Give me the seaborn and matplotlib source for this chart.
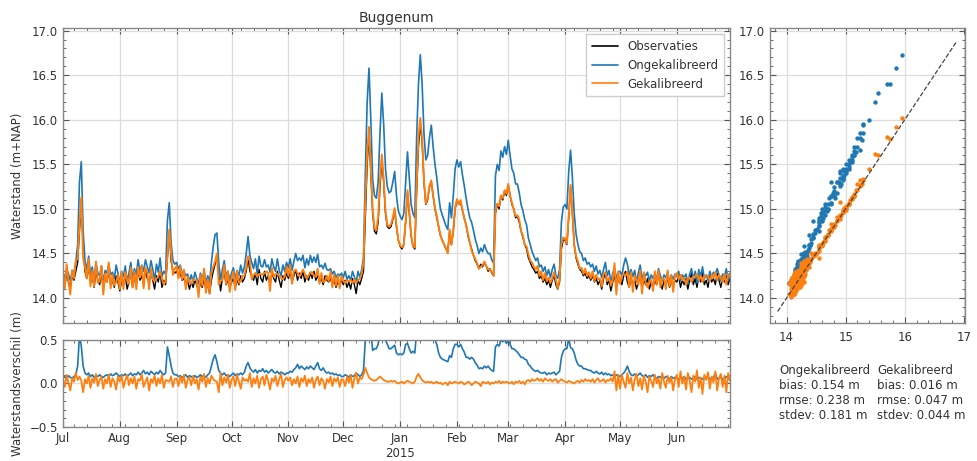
import pandas as pd
import matplotlib
matplotlib.use("Agg")
import matplotlib.pyplot as plt
import matplotlib.dates as mdates
from matplotlib.ticker import AutoMinorLocator, FuncFormatter, MultipleLocator
import seaborn as sns

# daily water levels (m+NAP), Jul 2014 - Jun 2015
obs = [
    # Jul
    14.22, 14.15, 14.28, 14.18, 14.12, 14.25, 14.20, 14.30, 14.40, 14.75, 15.10, 14.55, 14.30, 14.22, 14.35, 14.18,
    14.25, 14.12, 14.30, 14.20, 14.15, 14.28, 14.10, 14.22, 14.18, 14.30, 14.15, 14.20, 14.12, 14.25, 14.18,
    # Aug
    14.08, 14.20, 14.15, 14.25, 14.10, 14.18, 14.28, 14.12, 14.22, 14.16, 14.30, 14.20, 14.25, 14.15, 14.32, 14.22,
    14.18, 14.28, 14.20, 14.10, 14.25, 14.18, 14.30, 14.12, 14.20, 14.15, 14.45, 14.75, 14.42, 14.30, 14.28,
    # Sep
    14.30, 14.25, 14.28, 14.20, 14.22, 14.15, 14.20, 14.10, 14.18, 14.12, 14.20, 14.15, 14.08, 14.18, 14.12,
    14.22, 14.10, 14.15, 14.05, 14.20, 14.30, 14.38, 14.48, 14.25, 14.08, 14.22, 14.30, 14.15, 14.20, 14.12,
    # Oct
    14.18, 14.22, 14.12, 14.20, 14.15, 14.25, 14.18, 14.22, 14.30, 14.45, 14.30, 14.25, 14.20, 14.28, 14.15, 14.32,
    14.22, 14.18, 14.30, 14.20, 14.25, 14.15, 14.28, 14.22, 14.18, 14.30, 14.20, 14.12, 14.25, 14.20, 14.28,
    # Nov
    14.22, 14.30, 14.18, 14.25, 14.32, 14.20, 14.28, 14.22, 14.30, 14.18, 14.25, 14.20, 14.28, 14.22, 14.30,
    14.20, 14.25, 14.18, 14.22, 14.15, 14.25, 14.20, 14.18, 14.22, 14.15, 14.20, 14.12, 14.18, 14.15, 14.20,
    # Dec
    14.15, 14.20, 14.12, 14.18, 14.10, 14.22, 14.15, 14.05, 14.20, 14.15, 14.22, 14.30, 14.90, 15.50, 15.85, 15.40,
    14.95, 14.75, 14.72, 14.85, 15.25, 15.55, 15.30, 14.95, 14.80, 14.78, 14.80, 14.88, 14.98, 14.80, 14.65,
    # Jan
    14.58, 14.55, 14.60, 14.85, 15.18, 14.95, 14.70, 14.58, 14.55, 15.20, 15.70, 15.95, 15.75, 15.30, 15.05, 15.10,
    15.25, 15.30, 15.15, 15.00, 14.90, 14.80, 14.70, 14.65, 14.60, 14.55, 14.52, 14.75, 14.60, 14.75, 15.00,
    # Feb
    15.10, 15.05, 15.08, 14.98, 14.90, 14.82, 14.70, 14.62, 14.55, 14.48, 14.42, 14.38, 14.33, 14.38,
    14.35, 14.40, 14.36, 14.30, 14.33, 14.28, 14.25, 14.95, 15.05, 15.00, 15.15, 15.10, 15.20, 15.15,
    # Mar
    15.27, 15.15, 15.05, 15.00, 14.90, 14.92, 14.85, 14.75, 14.68, 14.60, 14.55, 14.45, 14.40, 14.35, 14.32, 14.28,
    14.30, 14.22, 14.25, 14.18, 14.22, 14.15, 14.20, 14.12, 14.20, 14.25, 14.15, 14.10, 14.18, 14.55, 14.65,
    # Apr
    14.65, 14.60, 14.90, 15.25, 14.95, 14.60, 14.45, 14.38, 14.32, 14.30, 14.25, 14.28, 14.22, 14.25, 14.20,
    14.25, 14.18, 14.22, 14.15, 14.20, 14.10, 14.22, 14.28, 14.15, 14.20, 14.08, 14.18, 14.25, 14.12, 14.20,
    # May
    14.22, 14.15, 14.25, 14.30, 14.18, 14.12, 14.22, 14.15, 14.20, 14.10, 14.18, 14.25, 14.12, 14.20, 14.15, 14.22,
    14.10, 14.18, 14.12, 14.20, 14.15, 14.25, 14.18, 14.10, 14.20, 14.15, 14.22, 14.12, 14.18, 14.15, 14.20,
    # Jun
    14.18, 14.25, 14.12, 14.20, 14.15, 14.22, 14.10, 14.20, 14.28, 14.15, 14.22, 14.12, 14.25, 14.18, 14.30,
    14.15, 14.20, 14.12, 14.25, 14.18, 14.22, 14.15, 14.28, 14.20, 14.12, 14.22, 14.18, 14.25, 14.15, 14.22,
]

# model minus observation (m), uncalibrated model
diff_ongek = [
    # Jul
    0.06, 0.08, 0.05, 0.09, 0.07, 0.06, 0.08, 0.10, 0.20, 0.55, 0.43, 0.20, 0.12, 0.10, 0.12, 0.08,
    0.10, 0.07, 0.09, 0.08, 0.10, 0.08, 0.07, 0.09, 0.10, 0.08, 0.11, 0.09, 0.10, 0.12, 0.10,
    # Aug
    0.08, 0.10, 0.09, 0.11, 0.08, 0.10, 0.12, 0.09, 0.11, 0.10, 0.13, 0.10, 0.12, 0.15, 0.11, 0.13,
    0.10, 0.14, 0.12, 0.10, 0.13, 0.11, 0.15, 0.12, 0.10, 0.12, 0.42, 0.32, 0.20, 0.12, 0.10,
    # Sep
    0.10, 0.08, 0.09, 0.07, 0.08, 0.10, 0.07, 0.09, 0.08, 0.06, 0.09, 0.07, 0.08, 0.10, 0.08,
    0.09, 0.07, 0.10, 0.12, 0.20, 0.28, 0.33, 0.25, 0.15, 0.12, 0.10, 0.12, 0.09, 0.10, 0.08,
    # Oct
    0.10, 0.12, 0.09, 0.11, 0.10, 0.12, 0.10, 0.13, 0.20, 0.24, 0.18, 0.15, 0.13, 0.16, 0.12, 0.15,
    0.14, 0.17, 0.13, 0.15, 0.12, 0.14, 0.16, 0.13, 0.12, 0.14, 0.11, 0.13, 0.12, 0.10, 0.12,
    # Nov
    0.12, 0.14, 0.13, 0.16, 0.18, 0.22, 0.17, 0.20, 0.18, 0.16, 0.19, 0.17, 0.20, 0.18, 0.16,
    0.20, 0.24, 0.17, 0.15, 0.18, 0.14, 0.12, 0.13, 0.11, 0.12, 0.10, 0.11, 0.09, 0.10, 0.08,
    # Dec
    0.08, 0.10, 0.09, 0.07, 0.10, 0.08, 0.09, 0.12, 0.10, 0.08, 0.10, 0.15, 0.50, 0.70, 0.73, 0.60,
    0.38, 0.40, 0.40, 0.45, 0.60, 0.75, 0.65, 0.50, 0.45, 0.40, 0.40, 0.42, 0.44, 0.35, 0.33,
    # Jan
    0.34, 0.33, 0.35, 0.45, 0.46, 0.40, 0.35, 0.37, 0.35, 0.60, 0.70, 0.78, 0.65, 0.55, 0.50, 0.50,
    0.55, 0.64, 0.55, 0.50, 0.45, 0.35, 0.30, 0.28, 0.27, 0.26, 0.25, 0.32, 0.30, 0.40, 0.45,
    # Feb
    0.45, 0.42, 0.45, 0.40, 0.36, 0.30, 0.30, 0.28, 0.30, 0.28, 0.24, 0.21, 0.17, 0.18,
    0.17, 0.20, 0.18, 0.20, 0.17, 0.15, 0.14, 0.42, 0.45, 0.43, 0.50, 0.48, 0.50, 0.46,
    # Mar
    0.50, 0.45, 0.40, 0.40, 0.38, 0.36, 0.33, 0.30, 0.30, 0.28, 0.27, 0.22, 0.20, 0.17, 0.15, 0.14,
    0.15, 0.13, 0.12, 0.12, 0.13, 0.10, 0.12, 0.11, 0.12, 0.13, 0.10, 0.12, 0.14, 0.30, 0.37,
    # Apr
    0.40, 0.40, 0.52, 0.41, 0.40, 0.35, 0.27, 0.22, 0.20, 0.20, 0.17, 0.17, 0.16, 0.15, 0.15,
    0.13, 0.12, 0.14, 0.12, 0.11, 0.13, 0.10, 0.12, 0.10, 0.11, 0.09, 0.10, 0.08, 0.10, 0.09,
    # May
    0.08, 0.10, 0.12, 0.15, 0.20, 0.14, 0.10, 0.09, 0.11, 0.08, 0.10, 0.12, 0.09, 0.08, 0.10, 0.07,
    0.09, 0.08, 0.10, 0.07, 0.06, 0.08, 0.07, 0.09, 0.06, 0.08, 0.07, 0.05, 0.08, 0.06, 0.07,
    # Jun
    0.06, 0.05, 0.07, 0.06, 0.08, 0.05, 0.06, 0.07, 0.05, 0.06, 0.08, 0.05, 0.07, 0.06, 0.05,
    0.07, 0.06, 0.08, 0.05, 0.06, 0.07, 0.12, 0.05, 0.06, 0.07, 0.05, 0.06, 0.08, 0.05, 0.06,
]

# model minus observation (m), calibrated model
diff_gek = [
    # Jul
    0.05, -0.04, 0.10, 0.00, -0.08, 0.06, 0.02, 0.12, 0.04, 0.08, 0.03, -0.10, 0.05, 0.00, 0.09, -0.05,
    0.06, 0.01, 0.11, -0.03, 0.04, 0.08, -0.06, 0.05, 0.00, 0.10, -0.04, 0.06, 0.02, -0.07, 0.08,
    # Aug
    0.02, 0.09, -0.05, 0.04, 0.10, -0.02, 0.06, 0.00, 0.08, -0.06, 0.05, 0.03, 0.11, -0.04, 0.02, 0.07,
    -0.08, 0.05, 0.01, 0.09, -0.03, 0.06, 0.00, 0.10, -0.05, 0.04, 0.03, 0.02, 0.08, -0.04, 0.05,
    # Sep
    0.06, -0.03, 0.08, 0.01, 0.10, -0.05, 0.04, 0.07, -0.02, 0.09, 0.00, 0.05, -0.07, 0.08, 0.02,
    0.11, -0.04, 0.06, 0.00, 0.09, 0.05, 0.03, 0.02, -0.10, 0.12, -0.02, 0.07, 0.01, 0.10, -0.05,
    # Oct
    0.04, 0.08, -0.03, 0.10, 0.02, -0.06, 0.07, 0.03, 0.05, 0.02, 0.12, -0.04, 0.06, 0.00, 0.09, -0.05,
    0.05, 0.08, -0.02, 0.10, 0.03, -0.07, 0.06, 0.02, 0.09, -0.03, 0.05, 0.11, -0.04, 0.04, 0.07,
    # Nov
    0.03, 0.07, -0.02, 0.05, 0.00, 0.08, -0.04, 0.06, 0.02, 0.09, -0.03, 0.05, 0.01, 0.07, -0.05,
    0.04, 0.08, -0.02, 0.06, 0.03, -0.06, 0.05, 0.01, 0.08, -0.03, 0.06, 0.02, 0.07, -0.04, 0.05,
    # Dec
    0.04, -0.03, 0.08, 0.01, 0.10, -0.05, 0.06, 0.12, 0.00, 0.07, 0.05, 0.10, 0.18, 0.12, 0.07, 0.05,
    0.04, 0.03, 0.04, 0.06, 0.08, 0.06, 0.04, 0.03, 0.02, 0.02, 0.03, 0.02, 0.03, 0.01, 0.00,
    # Jan
    0.01, 0.02, 0.00, 0.02, 0.03, 0.02, 0.01, 0.00, 0.02, 0.08, 0.11, 0.07, 0.04, 0.02, 0.01, 0.02,
    0.01, 0.02, 0.00, 0.01, 0.02, 0.00, 0.01, -0.01, 0.00, 0.01, -0.02, 0.02, 0.00, 0.01, 0.02,
    # Feb
    0.01, 0.00, 0.02, 0.01, -0.01, 0.00, 0.02, 0.01, -0.02, 0.00, 0.02, 0.01, 0.00, -0.03,
    0.02, 0.01, 0.00, 0.02, -0.01, 0.01, 0.00, 0.02, 0.01, 0.03, 0.00, 0.02, 0.01, 0.02,
    # Mar
    0.01, 0.00, 0.02, -0.01, 0.02, 0.01, 0.03, 0.00, 0.02, -0.01, 0.03, 0.04, 0.02, 0.05, 0.03, 0.04,
    0.06, 0.03, 0.05, 0.02, 0.06, 0.04, 0.03, 0.05, 0.02, 0.04, 0.05, 0.01, 0.03, 0.05, 0.03,
    # Apr
    0.02, 0.01, 0.03, 0.02, 0.01, 0.00, 0.02, 0.03, 0.01, 0.04, 0.02, 0.05, 0.03, 0.04, 0.02,
    0.05, 0.01, 0.04, 0.06, 0.02, 0.03, 0.05, 0.01, 0.04, 0.03, 0.06, 0.02, 0.14, -0.08, 0.10,
    # May
    -0.06, 0.10, 0.02, -0.05, 0.12, 0.00, 0.07, -0.08, 0.05, 0.11, -0.03, 0.06, -0.07, 0.09, 0.02, -0.10,
    0.08, 0.03, -0.04, 0.10, 0.00, 0.06, -0.06, 0.12, 0.02, -0.05, 0.09, 0.01, 0.07, -0.08, 0.05,
    # Jun
    0.10, -0.04, 0.14, 0.00, 0.08, -0.07, 0.12, 0.03, -0.10, 0.09, 0.02, 0.15, -0.05, 0.07, -0.12,
    0.10, 0.04, 0.13, -0.06, 0.08, 0.01, 0.14, -0.08, 0.06, 0.11, -0.04, 0.09, -0.10, 0.12, 0.03,
]

start_date = "2014-07-01"
diag_range = [13.85, 16.88]

stats_ongek = ["Ongekalibreerd", "bias: 0.154 m", "rmse: 0.238 m", "stdev: 0.181 m"]
stats_gek = ["Gekalibreerd", "bias: 0.016 m", "rmse: 0.047 m", "stdev: 0.044 m"]

BLUE = "#1f77b4"
ORANGE = "#ff7f0e"
TEXT = "#333333"

sns.set_style("whitegrid")
plt.rcParams.update({
    "font.family": ["DejaVu Sans"],
    "font.size": 8.5,
    "axes.labelsize": 8.5,
    "axes.titlesize": 10,
    "xtick.labelsize": 8.5,
    "ytick.labelsize": 8.5,
    "legend.fontsize": 8.5,
    "text.color": TEXT,
    "axes.labelcolor": TEXT,
    "xtick.color": "#555555",
    "ytick.color": "#555555",
    "xtick.labelcolor": TEXT,
    "ytick.labelcolor": TEXT,
    "axes.edgecolor": "#888888",
    "axes.linewidth": 1.0,
    "grid.color": "#dddddd",
    "grid.linewidth": 0.9,
    "xtick.direction": "in",
    "ytick.direction": "in",
    "xtick.bottom": True,
    "ytick.left": True,
    "xtick.top": True,
    "ytick.right": True,
    "xtick.major.size": 4,
    "ytick.major.size": 4,
    "xtick.minor.size": 2,
    "ytick.minor.size": 2,
})

dates = pd.date_range(start_date, periods=len(obs), freq="D")
df = pd.DataFrame({"datum": dates, "obs": obs, "d_ongek": diff_ongek, "d_gek": diff_gek})
df["ongek"] = df["obs"] + df["d_ongek"]
df["gek"] = df["obs"] + df["d_gek"]

fig = plt.figure(figsize=(9.78, 4.61), dpi=100)
ax = fig.add_axes([0.0644, 0.2993, 0.682, 0.640])
axd = fig.add_axes([0.0644, 0.0738, 0.682, 0.1887], sharex=ax)
axs = fig.add_axes([0.7873, 0.2993, 0.1994, 0.640])

# time series
sns.lineplot(data=df, x="datum", y="obs", ax=ax, color="black", lw=1.0, label="Observaties")
sns.lineplot(data=df, x="datum", y="ongek", ax=ax, color=BLUE, lw=1.2, label="Ongekalibreerd")
sns.lineplot(data=df, x="datum", y="gek", ax=ax, color=ORANGE, lw=1.4, label="Gekalibreerd")
ax.set_title("Buggenum", pad=4)
ax.set_xlabel("")
ax.set_ylabel("Waterstand (m+NAP)")
ax.set_ylim(13.72, 17.03)
ax.yaxis.set_major_locator(MultipleLocator(0.5))
ax.yaxis.set_minor_locator(AutoMinorLocator(5))
ax.tick_params(labelbottom=False)
leg = ax.legend(loc="upper right", frameon=True, fancybox=False, edgecolor="#cccccc",
                framealpha=1, borderpad=0.5, handlelength=2.2)
for line in leg.get_lines():
    line.set_linewidth(1.2)

# differences
sns.lineplot(data=df, x="datum", y="d_ongek", ax=axd, color=BLUE, lw=1.2)
sns.lineplot(data=df, x="datum", y="d_gek", ax=axd, color=ORANGE, lw=1.3)
axd.set_xlabel("")
axd.set_ylabel("Waterstandsverschil (m)")
axd.set_ylim(-0.5, 0.5)
axd.yaxis.set_major_locator(MultipleLocator(0.5))
axd.yaxis.set_minor_locator(AutoMinorLocator(5))
axd.set_xlim(dates[0], dates[-1])
axd.xaxis.set_major_locator(mdates.MonthLocator())
axd.xaxis.set_minor_locator(mdates.WeekdayLocator(byweekday=mdates.MO))


def month_label(x, pos):
    d = mdates.num2date(x)
    return d.strftime("%b") + (f"\n{d.year}" if d.month == 1 else "")


axd.xaxis.set_major_formatter(FuncFormatter(month_label))

ax.yaxis.set_label_coords(-0.058, 0.5)
axd.yaxis.set_label_coords(-0.058, 0.5)

# scatter obs vs model
sns.scatterplot(data=df, x="obs", y="ongek", ax=axs, color=BLUE, s=10, linewidth=0)
sns.scatterplot(data=df, x="obs", y="gek", ax=axs, color=ORANGE, s=10, linewidth=0)
axs.plot(diag_range, diag_range, ls="--", color="#444444", lw=0.9)
axs.set_xlabel("")
axs.set_ylabel("")
axs.set_xlim(13.72, 17.02)
axs.set_ylim(13.72, 17.03)
axs.xaxis.set_major_locator(MultipleLocator(1))
axs.xaxis.set_minor_locator(AutoMinorLocator(5))
axs.yaxis.set_major_locator(MultipleLocator(0.5))
axs.yaxis.set_minor_locator(AutoMinorLocator(5))
axs.tick_params(axis="x", pad=6)

fig.text(0.7965, 1 - 364 / 461, "\n".join(stats_ongek), va="top", ha="left", fontsize=8.5, linespacing=1.2)
fig.text(0.8967, 1 - 364 / 461, "\n".join(stats_gek), va="top", ha="left", fontsize=8.5, linespacing=1.2)

fig.savefig("out.png", dpi=100)
